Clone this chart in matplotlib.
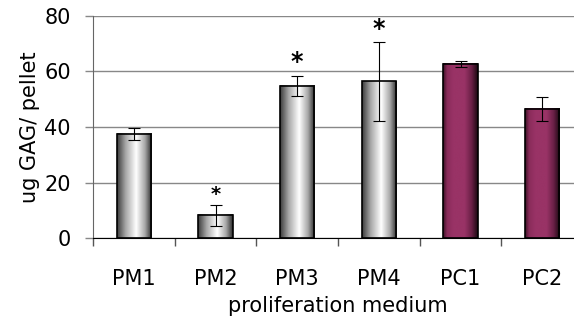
import numpy as np
import matplotlib
matplotlib.use("Agg")
import matplotlib.pyplot as plt
from matplotlib.colors import LinearSegmentedColormap

categories = ['PM1', 'PM2', 'PM3', 'PM4', 'PC1', 'PC2']
values = [37.4, 8.3, 54.8, 56.4, 62.6, 46.4]
errors = [2.2, 3.7, 3.7, 14.1, 1.0, 4.4]
significant = [False, True, True, True, False, False]
groups = ['grey', 'grey', 'grey', 'grey', 'maroon', 'maroon']

grey_cmap = LinearSegmentedColormap.from_list(
    'grey', [(0, '#3a3a3a'), (0.25, '#a8a8a8'), (0.55, '#ffffff'),
             (0.8, '#a8a8a8'), (1, '#2a2a2a')])
maroon_cmap = LinearSegmentedColormap.from_list(
    'maroon', [(0, '#3a1024'), (0.12, '#8a2c5a'), (0.3, '#993366'),
               (0.62, '#993366'), (0.82, '#6a2046'), (1, '#1a0810')])
cmaps = {'grey': grey_cmap, 'maroon': maroon_cmap}

plt.rcParams['font.family'] = 'DejaVu Sans'
fig = plt.figure(figsize=(5.74, 3.24), dpi=100)
ax = fig.add_axes([0.162, 0.2645, 0.8538, 0.687])

x = np.arange(len(categories))
width = 0.42
grad = np.linspace(0, 1, 256).reshape(1, -1)

for xi, v, g in zip(x, values, groups):
    ax.imshow(grad, cmap=cmaps[g], aspect='auto', zorder=2,
              extent=[xi - width / 2, xi + width / 2, 0, v])
ax.bar(x, values, width, facecolor='none', edgecolor='black', linewidth=1.2, zorder=3)
ax.errorbar(x, values, yerr=errors, fmt='none', ecolor='black', elinewidth=0.8,
            capsize=4, capthick=0.8, zorder=4)

for xi, v, e, s in zip(x, values, errors, significant):
    if s:
        size = 14 if v < 20 else 17
        ax.text(xi, v + e + 0.5, '*', ha='center', va='bottom', fontsize=size,
                fontweight='bold')

ax.set_xlim(-0.5, 5.5)
ax.set_ylim(0, 80)
ax.set_yticks([0, 20, 40, 60, 80])
ax.yaxis.grid(True, color='#888888', linewidth=1)
ax.set_axisbelow(True)

ax.set_xticks(x)
ax.set_xticklabels(categories)
ax.set_xticks(np.arange(-0.5, 5.0, 1), minor=True)
ax.tick_params(axis='x', which='major', length=0, pad=22, labelsize=15)
ax.tick_params(axis='x', which='minor', length=6, width=1, color='#555555', direction='out')
ax.tick_params(axis='y', length=6, width=1, color='#888888', labelsize=15, pad=10)

for side in ['top', 'right']:
    ax.spines[side].set_visible(False)
ax.spines['left'].set_color('#666666')
ax.spines['bottom'].set_color('black')

ax.set_xlabel('proliferation medium', fontsize=15, labelpad=5)
ax.set_ylabel('ug GAG/ pellet', fontsize=15, labelpad=3)

fig.savefig('out.png', dpi=100)
